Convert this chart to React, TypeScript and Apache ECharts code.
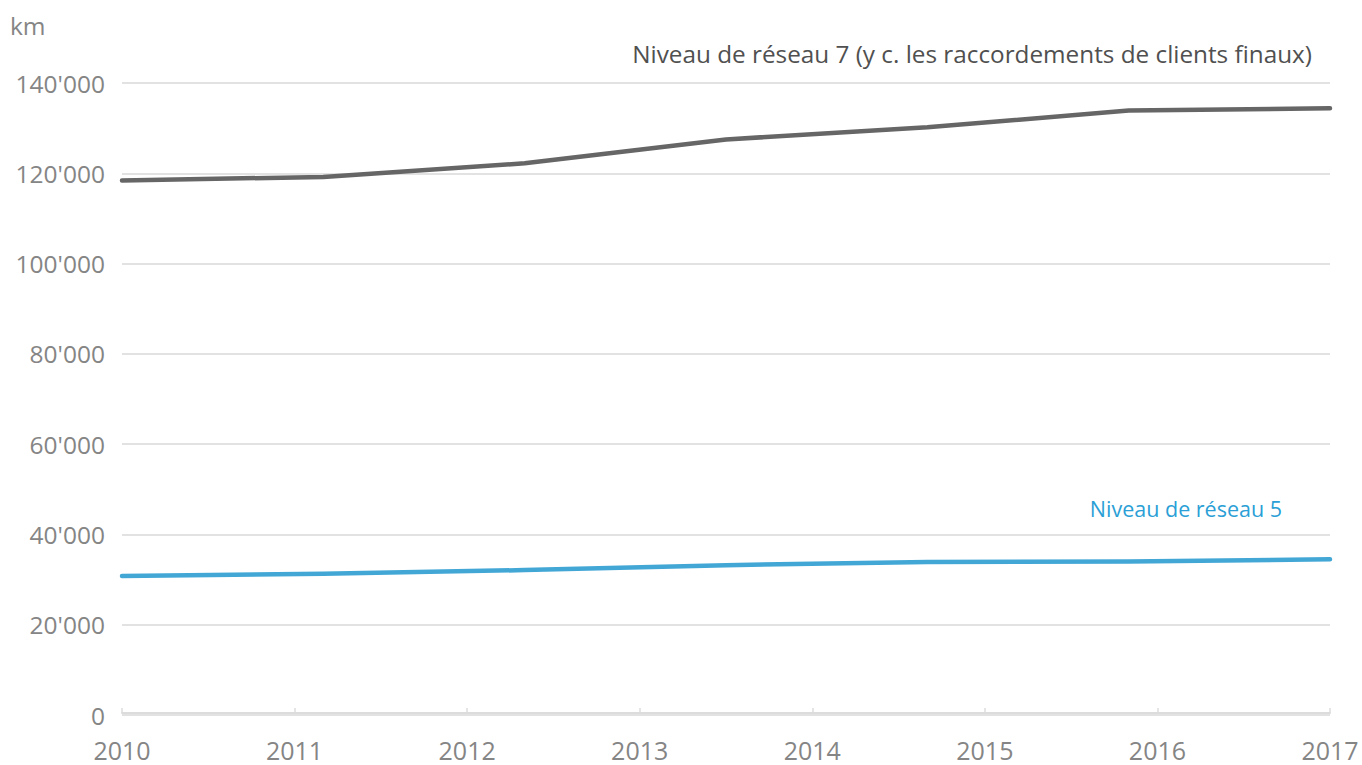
import React, { useEffect, useRef } from "react";
import * as echarts from "echarts";

const yearLabels = ["2010", "2011", "2012", "2013", "2014", "2015", "2016", "2017"];
const pointSlots = ["p1", "p2", "p3", "p4", "p5", "p6", "p7"];
const level7 = [118400, 119200, 122200, 127500, 130200, 133900, 134400];
const level5 = [30800, 31300, 32100, 33200, 33900, 34000, 34500];
const level7Name = "Niveau de réseau 7 (y c. les raccordements de clients finaux)";
const level5Name = "Niveau de réseau 5";
const unitLabel = "km";

const FONT = "'Open Sans', sans-serif";
const GREY_TEXT = "#858585";

function fmt(v: number): string {
  return String(v).replace(/\B(?=(\d{3})+(?!\d))/g, "'");
}

export default function App() {
  const ref = useRef<HTMLDivElement>(null);
  useEffect(() => {
    document.body.style.margin = "0";
    document.body.style.overflow = "hidden";
    if (!ref.current) return;
    const chart = echarts.init(ref.current, null, { renderer: "svg" });
    chart.setOption({
      animation: false,
      backgroundColor: "#ffffff",
      textStyle: { fontFamily: FONT },
      grid: { left: 122, right: 32, top: 83, bottom: 50, containLabel: false },
      xAxis: [
        {
          type: "category",
          data: pointSlots,
          boundaryGap: false,
          show: false,
        },
        {
          type: "category",
          data: yearLabels,
          boundaryGap: false,
          position: "bottom",
          offset: -2,
          axisLine: { show: true, lineStyle: { color: "#dcdcdc", width: 2 } },
          axisTick: { show: true, inside: true, length: 5, lineStyle: { color: "#dcdcdc", width: 1.5 } },
          axisLabel: { color: GREY_TEXT, fontSize: 25, fontFamily: FONT, margin: 24 },
          splitLine: { show: false },
        },
      ],
      yAxis: {
        type: "value",
        min: 0,
        max: 140000,
        interval: 20000,
        axisLine: { show: false },
        axisTick: { show: false },
        axisLabel: {
          color: GREY_TEXT,
          fontSize: 24.5,
          fontFamily: FONT,
          margin: 17,
          formatter: (v: number) => fmt(v),
        },
        splitLine: { show: true, lineStyle: { color: "#e2e2e2", width: 2 } },
      },
      series: [
        {
          type: "line",
          name: level7Name,
          xAxisIndex: 0,
          data: level7,
          symbol: "none",
          lineStyle: { color: "#666666", width: 4.5, cap: "round", join: "round" },
        },
        {
          type: "line",
          name: level5Name,
          xAxisIndex: 0,
          data: level5,
          symbol: "none",
          lineStyle: { color: "#43a7d6", width: 4.5, cap: "round", join: "round" },
        },
      ],
      graphic: [
        {
          type: "text",
          left: 10,
          top: 13,
          style: { text: unitLabel, fill: GREY_TEXT, font: `24.5px ${FONT}` },
        },
        {
          type: "text",
          right: 50,
          top: 41,
          style: { text: level7Name, fill: "#505050", font: `24.3px ${FONT}` },
        },
        {
          type: "text",
          right: 80,
          top: 497,
          style: { text: level5Name, fill: "#2b9fd6", font: `21.5px ${FONT}` },
        },
      ],
    });
    return () => chart.dispose();
  }, []);
  return <div ref={ref} style={{ width: 1362, height: 765 }} />;
}
